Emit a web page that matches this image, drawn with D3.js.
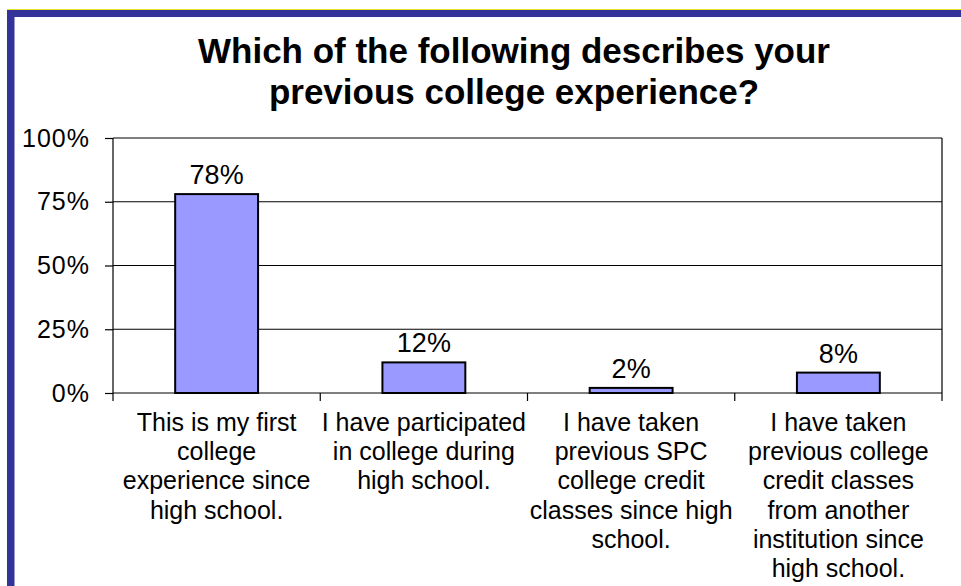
<!DOCTYPE html>
<html>
<head>
<meta charset="utf-8">
<script src="https://cdn.jsdelivr.net/npm/d3@7"></script>
<style>
  html, body { margin: 0; padding: 0; background: #fff; }
  svg { display: block; }
  text { font-family: Arial, "Liberation Sans", sans-serif; fill: #000; }
</style>
</head>
<body>
<svg id="chart" width="961" height="586"></svg>
<script>
// Survey categories (each wrapped onto display lines)
const categories = [
  "This is my first college experience since high school.",
  "I have participated in college during high school.",
  "I have taken previous SPC college credit classes since high school.",
  "I have taken previous college credit classes from another institution since high school."
];
const categoryLines = [
  ["This is my first", "college", "experience since", "high school."],
  ["I have participated", "in college during", "high school."],
  ["I have taken", "previous SPC", "college credit", "classes since high", "school."],
  ["I have taken", "previous college", "credit classes", "from another", "institution since", "high school."]
];
// Share of respondents, in percent
const percentages = [78, 12, 2, 8];
const yTicks = [0, 25, 50, 75, 100];
const titleLines = ["Which of the following describes your", "previous college experience?"];

const svg = d3.select("#chart");
const W = 961, H = 586;

// Slide frame: thin yellow rule and blue band across the top, blue band down the left
svg.append("rect").attr("x", 7).attr("y", 9).attr("width", W - 7).attr("height", 1.5).attr("fill", "#e8e020");
svg.append("rect").attr("x", 7).attr("y", 10).attr("width", W - 7).attr("height", 7).attr("fill", "#333399");
svg.append("rect").attr("x", 7).attr("y", 10).attr("width", 7.5).attr("height", H - 10).attr("fill", "#333399");

const plot = { left: 113, right: 942, top: 138, bottom: 393 };

const x = d3.scaleBand()
  .domain(categories)
  .range([plot.left, plot.right])
  .paddingInner(0.6)
  .paddingOuter(0.3);
const band = d3.scaleBand().domain(categories).range([plot.left, plot.right]);
const y = d3.scaleLinear().domain([0, 100]).range([plot.bottom, plot.top]);

// Title
const title = svg.append("text")
  .attr("text-anchor", "middle")
  .attr("font-weight", "bold")
  .attr("font-size", 35);
titleLines.forEach((t, i) => {
  title.append("tspan").attr("x", 514).attr("y", 63 + i * 41).text(t);
});

// Gridlines
svg.append("g")
  .selectAll("line")
  .data(yTicks)
  .join("line")
  .attr("x1", plot.left).attr("x2", plot.right)
  .attr("y1", d => y(d)).attr("y2", d => y(d))
  .attr("stroke", "#000").attr("stroke-width", 1.2);

// Plot area border (right side)
svg.append("line")
  .attr("x1", plot.right).attr("x2", plot.right)
  .attr("y1", plot.top).attr("y2", plot.bottom)
  .attr("stroke", "#000").attr("stroke-width", 1.2);

// Y axis
const yAxis = d3.axisLeft(y)
  .tickValues(yTicks)
  .tickFormat(d => d + "%")
  .tickSize(8)
  .tickPadding(15);
const gy = svg.append("g").attr("transform", `translate(${plot.left},0)`).call(yAxis);
gy.select(".domain").attr("stroke", "#000").attr("stroke-width", 1.2).attr("d", `M0,${plot.top}V${plot.bottom}`);
gy.selectAll(".tick line").attr("stroke", "#000").attr("stroke-width", 1.2);
gy.selectAll(".tick text")
  .attr("font-size", 25)
  .attr("letter-spacing", 1)
  .attr("font-family", "Arial, 'Liberation Sans', sans-serif")
  .attr("fill", "#000");

// X axis: tick marks at band boundaries
const boundaries = categories.map(c => band(c)).concat([plot.right]);
svg.append("g")
  .selectAll("line")
  .data(boundaries)
  .join("line")
  .attr("x1", d => d).attr("x2", d => d)
  .attr("y1", plot.bottom).attr("y2", plot.bottom + 8)
  .attr("stroke", "#000").attr("stroke-width", 1.2);

// Bars
svg.append("g")
  .selectAll("rect")
  .data(percentages)
  .join("rect")
  .attr("x", (d, i) => x(categories[i]))
  .attr("width", x.bandwidth())
  .attr("y", d => y(d))
  .attr("height", d => y(0) - y(d))
  .attr("fill", "#9999ff")
  .attr("stroke", "#000")
  .attr("stroke-width", 2);

// Value labels
svg.append("g")
  .selectAll("text")
  .data(percentages)
  .join("text")
  .attr("x", (d, i) => x(categories[i]) + x.bandwidth() / 2)
  .attr("y", d => y(d) - 10)
  .attr("text-anchor", "middle")
  .attr("font-size", 27)
  .text(d => d + "%");

// Category labels
const labels = svg.append("g")
  .selectAll("text")
  .data(categories)
  .join("text")
  .attr("text-anchor", "middle")
  .attr("font-size", 25);
labels.each(function (c, i) {
  const cx = band(c) + band.bandwidth() / 2;
  d3.select(this).selectAll("tspan")
    .data(categoryLines[i])
    .join("tspan")
    .attr("x", cx)
    .attr("y", (d, j) => 431 + j * 29.2)
    .text(d => d);
});
</script>
</body>
</html>
